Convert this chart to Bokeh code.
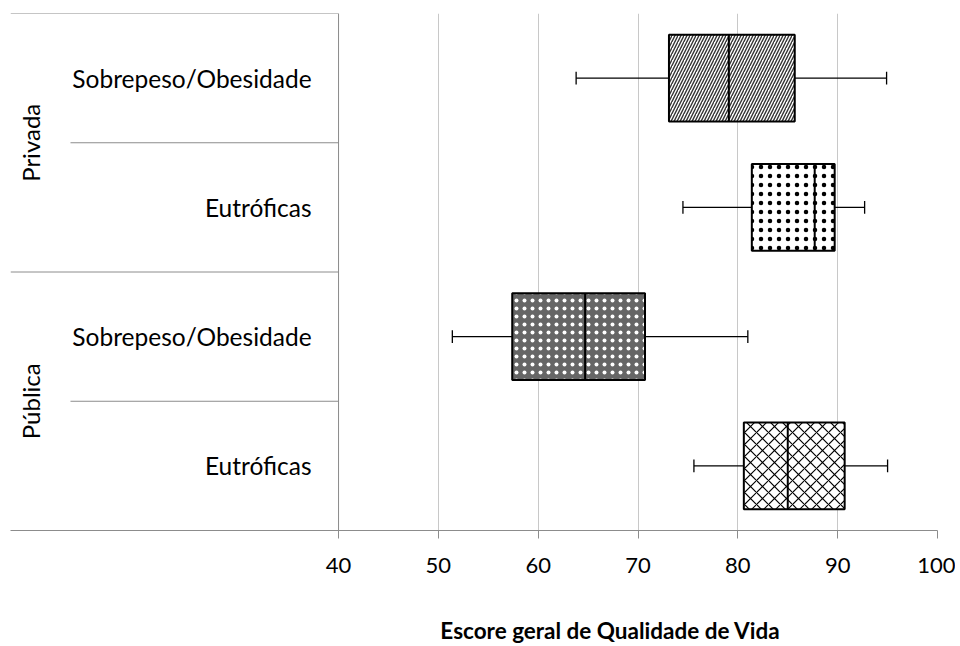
import math
from bokeh.plotting import figure
from bokeh.layouts import column
from bokeh.models import Range1d, FixedTicker
from bokeh.embed import file_html
from bokeh.resources import INLINE
from bokeh.core.properties import value

# ---- data (bottom row first) ----
groups = ["Pública", "Privada"]
subgroups = ["Eutróficas", "Sobrepeso/Obesidade", "Eutróficas", "Sobrepeso/Obesidade"]
whisker_low = [75.6, 51.4, 74.5, 63.8]
q1 = [80.6, 57.4, 81.4, 73.1]
median = [85.0, 64.7, 87.7, 79.1]
q3 = [90.7, 70.7, 89.7, 85.7]
whisker_high = [95.0, 81.0, 92.7, 94.9]
x_ticks = [40, 50, 60, 70, 80, 90, 100]
x_title = "Escore geral de Qualidade de Vida"

FONT = "Lato"
X_MIN = 40
X_MAX = 100
X_LEFT = 7.14       # left edge of the label panel (inside frame)
X_SUB = 13.15       # left end of short separators
X_SUBLABEL = 37.3   # right edge of subgroup labels
X_GROUP = 9.15      # center of rotated group labels
X_TITLE = 50.2      # left edge of the axis title

n = len(subgroups)
ys = [i + 0.5 for i in range(n)]
half = 0.336
cap = 0.05

p = figure(width=955, height=600, output_backend="svg", toolbar_location=None,
           x_range=Range1d(X_LEFT, X_MAX), y_range=Range1d(0, n),
           min_border_left=10, min_border_right=18, min_border_top=13,
           min_border_bottom=70)
p.outline_line_color = None
p.yaxis.visible = False
p.ygrid.visible = False

p.xaxis.ticker = FixedTicker(ticks=x_ticks)
p.xgrid.ticker = FixedTicker(ticks=x_ticks)
p.xgrid.grid_line_color = "#c8c8c8"
p.xgrid.grid_line_width = 1
p.xaxis.axis_line_color = "#8c8c8c"
p.xaxis.major_tick_line_color = "#8c8c8c"
p.xaxis.major_tick_out = 8
p.xaxis.major_tick_in = 0
p.xaxis.minor_tick_line_color = None
p.xaxis.major_label_text_font = FONT
p.xaxis.major_label_text_font_size = "22px"
p.xaxis.major_label_text_color = "black"
p.xaxis.major_label_standoff = 19

# vertical axis line at 40
p.segment(x0=[X_MIN], y0=[0], x1=[X_MIN], y1=[n], line_color="#8c8c8c", line_width=1)

# separators in label panel
p.segment(x0=[X_LEFT, X_LEFT], y0=[n, n / 2], x1=[X_MIN, X_MIN], y1=[n, n / 2],
          line_color="#8c8c8c", line_width=1)
p.segment(x0=[X_SUB, X_SUB], y0=[1, 3], x1=[X_MIN, X_MIN], y1=[1, 3],
          line_color="#8c8c8c", line_width=1)

# labels
p.text(x=[X_SUBLABEL] * n, y=ys, text=subgroups, text_align="right",
       text_baseline="middle", text_font=value(FONT), text_font_size="24.5px",
       text_color="black")
p.text(x=[X_GROUP, X_GROUP], y=[1, 3], text=groups, angle=math.pi / 2,
       text_align="center", text_baseline="middle", text_font=value(FONT),
       text_font_size="24px", text_color="black")

# whiskers
p.segment(x0=whisker_low, y0=ys, x1=q1, y1=ys, line_color="black", line_width=1.3)
p.segment(x0=q3, y0=ys, x1=whisker_high, y1=ys, line_color="black", line_width=1.3)
p.segment(x0=whisker_low, y0=[y - cap for y in ys], x1=whisker_low,
          y1=[y + cap for y in ys], line_color="black", line_width=1.3)
p.segment(x0=whisker_high, y0=[y - cap for y in ys], x1=whisker_high,
          y1=[y + cap for y in ys], line_color="black", line_width=1.3)

# boxes with patterns
styles = [
    dict(fill_color="white", hatch_pattern="diagonal_cross", hatch_color="black",
         hatch_scale=12, hatch_weight=1.2),
    dict(fill_color="#666666", hatch_pattern="dot", hatch_color="white",
         hatch_scale=8, hatch_weight=1.8),
    dict(fill_color="white", hatch_pattern="dot", hatch_color="black",
         hatch_scale=9, hatch_weight=0.7),
    dict(fill_color="white", hatch_pattern="right_diagonal_line", hatch_color="#333333",
         hatch_scale=6, hatch_weight=1.4),
]
for i in range(n):
    p.quad(left=[q1[i]], right=[q3[i]], bottom=[ys[i] - half], top=[ys[i] + half],
           line_color="black", line_width=2, **styles[i])
p.segment(x0=median, y0=[y - half for y in ys], x1=median, y1=[y + half for y in ys],
          line_color="black", line_width=2)

# strip below the chart carrying the axis title, sharing the value scale
t = figure(width=955, height=46, output_backend="svg", toolbar_location=None,
           x_range=p.x_range, y_range=Range1d(0, 46), x_axis_type=None,
           y_axis_type=None, min_border_left=10, min_border_right=18,
           min_border_top=0, min_border_bottom=0)
t.outline_line_color = None
t.grid.visible = False
t.text(x=[X_TITLE], y=[16], text=[x_title], text_align="left",
       text_baseline="middle", text_font=value(FONT), text_font_size="22.5px",
       text_font_style="bold", text_color="black")

layout = column(p, t, spacing=0)
open("out.html", "w").write(file_html(layout, INLINE))
